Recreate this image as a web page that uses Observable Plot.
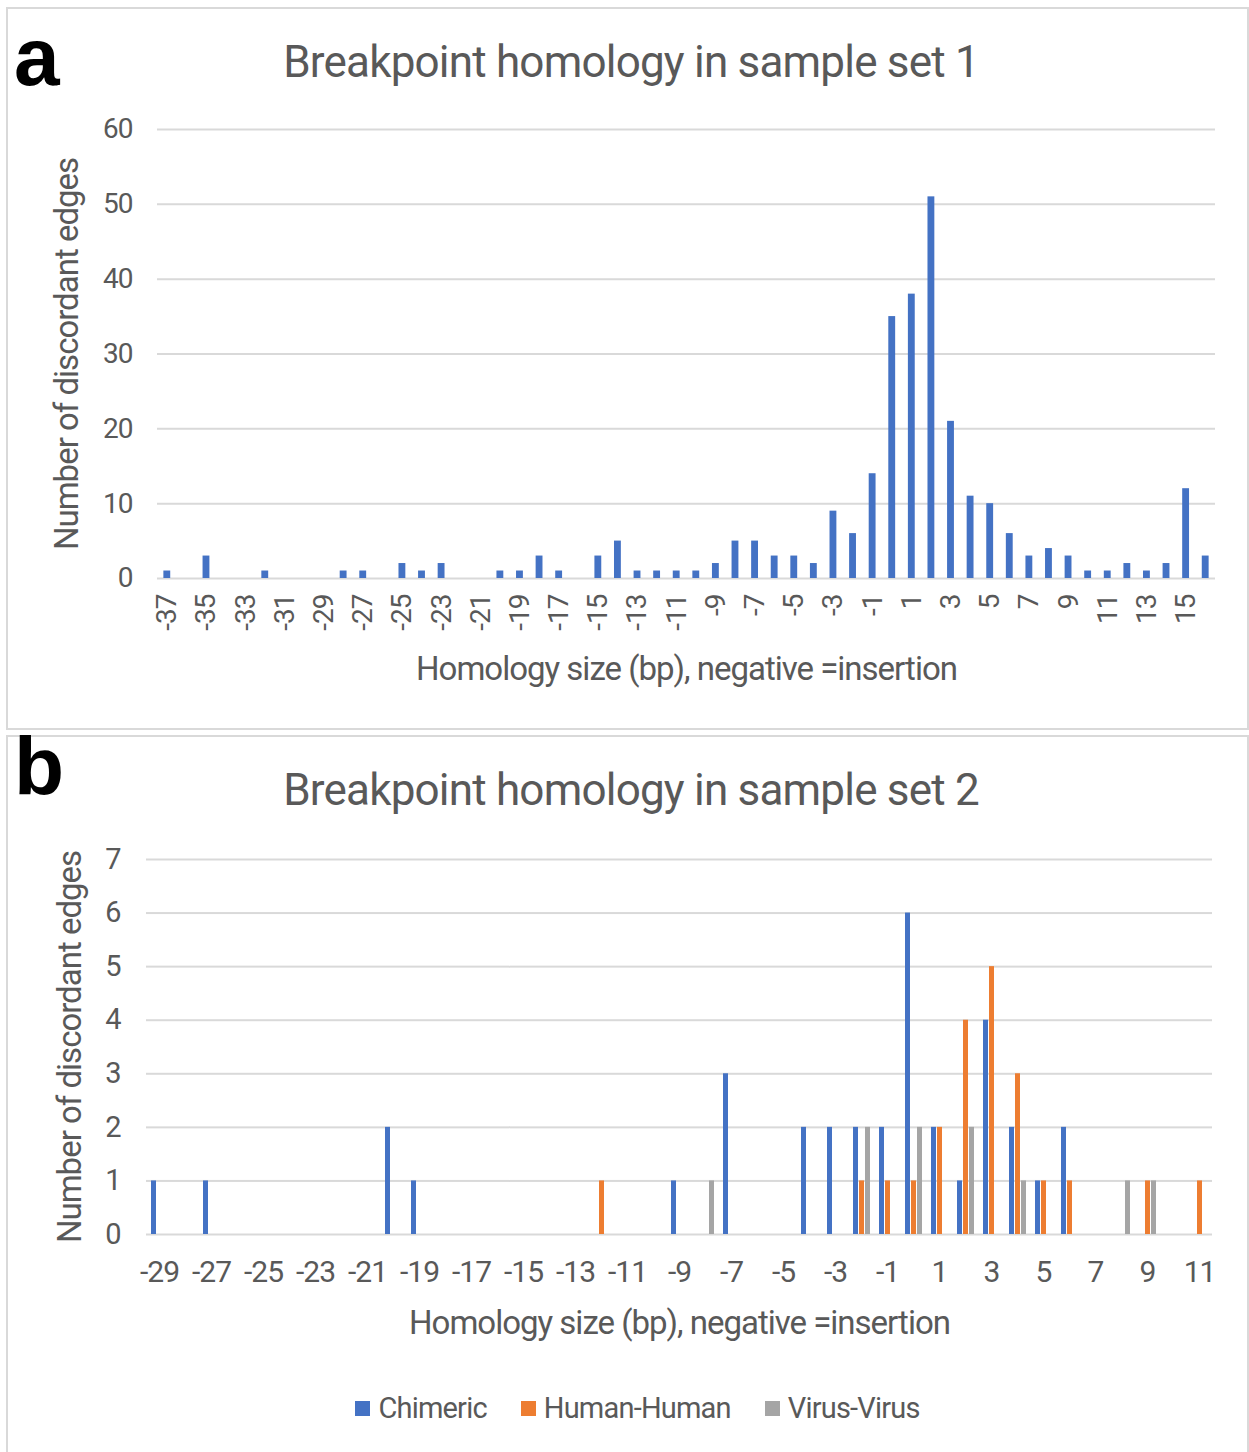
<!DOCTYPE html>
<html>
<head>
<meta charset="utf-8">
<script src="https://cdn.jsdelivr.net/npm/d3@7"></script>
<script src="https://cdn.jsdelivr.net/npm/@observablehq/plot@0.6"></script>
<style>
  body { margin: 0; background: #fff; }
  #page { position: relative; width: 1249px; height: 1452px; background: #fff; overflow: hidden;
          font-family: Roboto, "Open Sans", sans-serif; color: #595959; }
  .panel { position: absolute; left: 6px; width: 1243px; border: 2px solid #d9d9d9; box-sizing: border-box; }
  .letter { position: absolute; left: 14px; font-family: "Liberation Sans", Arial, sans-serif; font-weight: bold;
            font-size: 82px; line-height: 1; color: #000; }
  .title { position: absolute; left: 631px; transform: translateX(-50%); white-space: nowrap;
           font-size: 44px; line-height: 1; letter-spacing: -0.8px; color: #595959; }
  #legend { position: absolute; left: 0; width: 1275px; top: 1390px; display: flex; justify-content: center;
            gap: 34px; font-size: 29px; line-height: 36px; letter-spacing: -0.8px; color: #595959; }
  #legend .item { display: flex; align-items: center; gap: 8px; }
  #legend .sw { width: 15px; height: 15px; }
</style>
</head>
<body>
<div id="page">
  <div class="panel" style="top:7px;height:723px;"></div>
  <div class="panel" style="top:735px;height:719px;"></div>
  <div class="letter" style="top:16px;">a</div>
  <div class="letter" style="top:725px;">b</div>
  <div class="title" style="top:40px;">Breakpoint homology in sample set 1</div>
  <div class="title" style="top:768px;">Breakpoint homology in sample set 2</div>
  <div id="legend"></div>
</div>
<script>
// Sample set 1: homology size (bp) and number of discordant edges
const homologyA = [-37,-36,-35,-34,-33,-32,-31,-30,-29,-28,-27,-26,-25,-24,-23,-22,-21,-20,-19,-18,
                   -17,-16,-15,-14,-13,-12,-11,-10,-9,-8,-7,-6,-5,-4,-3,-2,-1,0,1,2,
                   3,4,5,6,7,8,9,10,11,12,13,14,15,16];
const edgesA    = [1,0,3,0,0,1,0,0,0,1,1,0,2,1,2,0,0,1,1,3,
                   1,0,3,5,1,1,1,1,2,5,5,3,3,2,9,6,14,35,38,51,
                   21,11,10,6,3,4,3,1,1,2,1,2,12,3];
const tickLabelsA = [-37,-35,-33,-31,-29,-27,-25,-23,-21,-19,-17,-15,-13,-11,-9,-7,-5,-3,-1,1,3,5,7,9,11,13,15];
const yTicksA = [0,10,20,30,40,50,60];

// Sample set 2: three junction types per homology size
const homologyB = [-29,-28,-27,-26,-25,-24,-23,-22,-21,-20,-19,-18,-17,-16,-15,-14,-13,-12,-11,-10,
                   -9,-8,-7,-6,-5,-4,-3,-2,-1,0,1,2,3,4,5,6,7,8,9,10,11];
const chimeric   = [1,0,1,0,0,0,0,0,0,2,1,0,0,0,0,0,0,0,0,0,
                    1,0,3,0,0,2,2,2,2,6,2,1,4,2,1,2,0,0,0,0,0];
const humanHuman = [0,0,0,0,0,0,0,0,0,0,0,0,0,0,0,0,0,1,0,0,
                    0,0,0,0,0,0,0,1,1,1,2,4,5,3,1,1,0,0,1,0,1];
const virusVirus = [0,0,0,0,0,0,0,0,0,0,0,0,0,0,0,0,0,0,0,0,
                    0,1,0,0,0,0,0,2,0,2,0,2,0,1,0,0,0,1,1,0,0];
const seriesNames  = ["Chimeric", "Human-Human", "Virus-Virus"];
const seriesColors = ["#4472C4", "#ED7D31", "#A5A5A5"];
const tickLabelsB = [-29,-27,-25,-23,-21,-19,-17,-15,-13,-11,-9,-7,-5,-3,-1,1,3,5,7,9,11];
const yTicksB = [0,1,2,3,4,5,6,7];

const xTitle = "Homology size (bp), negative =insertion";
const yTitle = "Number of discordant edges";

const page = document.getElementById("page");
const gridStyle = {stroke: "#d9d9d9", strokeOpacity: 1, strokeWidth: 2};
const titleFont = 33;
const svgStyle = (top) => ({position: "absolute", left: "0px", top: top + "px", background: "none",
  fontFamily: "Roboto, 'Open Sans', sans-serif", fontSize: "28px", letterSpacing: "-1px",
  color: "#595959", overflow: "visible", maxWidth: "none"});

// Panel a
const rowsA = homologyA.map((h, i) => ({h, n: edgesA[i]}));
const chartA = Plot.plot({
  width: 1249, height: 600,
  marginLeft: 157, marginRight: 34, marginTop: 29, marginBottom: 122,
  style: svgStyle(100),
  x: {type: "band", domain: homologyA, paddingInner: 0.65, paddingOuter: 0.325},
  y: {domain: [0, 60]},
  marks: [
    Plot.gridY(yTicksA, gridStyle),
    Plot.barY(rowsA, {x: "h", y: "n", fill: "#4472C4"}),
    Plot.axisY({ticks: yTicksA, tickFormat: d => String(d), tickSize: 0, tickPadding: 25, label: null}),
    Plot.axisY({ticks: [], label: yTitle, labelAnchor: "center", labelArrow: "none",
      labelOffset: 103, fontSize: titleFont}),
    Plot.axisX({ticks: tickLabelsA, tickFormat: d => String(d), tickSize: 0, tickPadding: 16,
      tickRotate: -90, label: null}),
    Plot.axisX({ticks: [], label: xTitle, labelAnchor: "center", labelArrow: "none",
      labelOffset: 101, fontSize: titleFont})
  ]
});
page.appendChild(chartA);

// Panel b: one facet per homology size, three bars per facet
const rowsB = [];
homologyB.forEach((h, i) => {
  [chimeric, humanHuman, virusVirus].forEach((vals, s) => {
    rowsB.push({h, series: seriesNames[s], n: vals[i]});
  });
});
const chartB = Plot.plot({
  width: 1249, height: 530,
  marginLeft: 143, marginRight: 34, marginTop: 29, marginBottom: 126,
  style: svgStyle(830),
  fx: {domain: homologyB, padding: 0},
  x: {domain: seriesNames, paddingInner: 0.2, paddingOuter: 0.6, axis: null},
  y: {domain: [0, 7]},
  color: {domain: seriesNames, range: seriesColors},
  marks: [
    Plot.gridY(yTicksB, gridStyle),
    Plot.barY(rowsB, {fx: "h", x: "series", y: "n", fill: "series"}),
    Plot.axisY({ticks: yTicksB, tickFormat: d => String(d), tickSize: 0, tickPadding: 26,
      label: null, fontSize: 29}),
    Plot.axisY({ticks: [], label: yTitle, labelAnchor: "center", labelArrow: "none",
      labelOffset: 89, fontSize: titleFont}),
    Plot.axisFx({ticks: tickLabelsB, tickFormat: d => String(d), anchor: "bottom", tickSize: 0,
      tickPadding: 26, label: null, fontSize: 30}),
    Plot.axisFx({ticks: [], anchor: "bottom", label: xTitle, labelAnchor: "center", labelArrow: "none",
      labelOffset: 99, fontSize: titleFont})
  ]
});
page.appendChild(chartB);

// Legend for panel b
const legend = document.getElementById("legend");
seriesNames.forEach((name, i) => {
  const item = document.createElement("div");
  item.className = "item";
  const sw = document.createElement("div");
  sw.className = "sw";
  sw.style.background = seriesColors[i];
  const label = document.createElement("span");
  label.textContent = name;
  item.appendChild(sw);
  item.appendChild(label);
  legend.appendChild(item);
});
</script>
</body>
</html>
